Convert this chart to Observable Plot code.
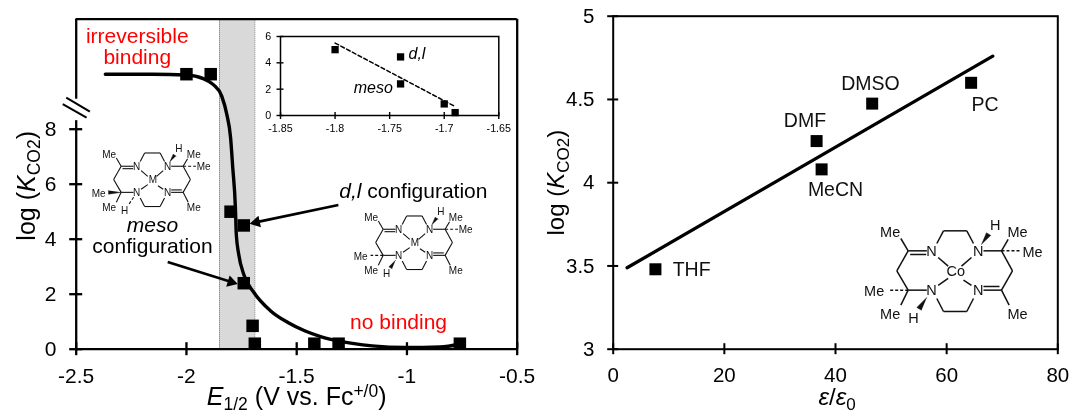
<!DOCTYPE html>
<html>
<head>
<meta charset="utf-8">
<script src="https://cdn.jsdelivr.net/npm/d3@7"></script>
<script src="https://cdn.jsdelivr.net/npm/@observablehq/plot@0.6"></script>
<style>
html,body{margin:0;padding:0;background:#fff}
#page{position:relative;width:1069px;height:414px;overflow:hidden;font-family:"Liberation Sans",Arial,sans-serif;filter:blur(0.35px)}
#page svg{position:absolute;max-width:none;background:transparent;overflow:visible}
</style>
</head>
<body>
<div id="page"></div>
<script>
// ---------- left panel data ----------
const potential = [-2, -1.89, -1.8, -1.74, -1.74, -1.7, -1.69, -1.42, -1.31, -0.76];
const logK = [10, 10, 5, 4.5, 2.4, 0.85, 0.2, 0.2, 0.2, 0.2];
const curveX = [-2.368,-2.154,-2,-1.924,-1.878,-1.84,-1.817,-1.8,-1.79,-1.778,-1.774,-1.763,-1.74,-1.694,-1.618,-1.54,-1.464,-1.388,-1.311,-1.158,-1.005,-0.85,-0.76];
const curveY = [10,10,9.97,9.84,9.62,9.2,8.54,7.7,6.6,5.15,4.18,3.45,2.72,2.06,1.39,0.97,0.67,0.45,0.30,0.12,0.06,0.08,0.18];
const band = [-1.85, -1.69];
const leftXTicks = [-2.5,-2,-1.5,-1,-0.5];
const leftYTicks = [0,2,4,6,8];
const slashes = [[-2.545,9.15,-2.438,8.64],[-2.561,8.91,-2.453,8.42]];
const arrowShafts = [[-1.311,5.24,-1.676,4.63],[-2.085,3.17,-1.803,2.46]];
const arrowHeads = [[-1.683,4.615,-102],[-1.797,2.44,107]];
// ---------- inset data ----------
const insetX = [-1.8,-1.74,-1.74,-1.7,-1.69];
const insetY = [5,4.45,2.4,0.88,0.22];
const insetFitX = [-1.8,-1.69];
const insetFitY = [5.5,0.68];
const insetXTicks = [-1.85,-1.8,-1.75,-1.7,-1.65];
const insetYTicks = [0,2,4,6];
// ---------- right panel data ----------
const solvents = ["THF","DMF","MeCN","DMSO","PC"];
const permittivity = [7.6,36.6,37.5,46.6,64.4];
const solventLogK = [3.48,4.25,4.08,4.475,4.6];
const fitX = [2.5,68.3];
const fitY = [3.489,4.76];
const rightXTicks = [0,20,40,60,80];
const rightYTicks = [3,3.5,4,4.5,5];
const solventLabelX = [10.7,34.5,40,46.3,66.9];
const solventLabelY = [3.48,4.37,3.96,4.595,4.47];
// ---------- molecule drawing (own units) ----------
const molBonds = [
 [172,122,228,122],[178,133,226,133],[398,122,452,122],[172,240,228,240],[398,240,452,240],[398,229,446,229],
 [172,122,138,182],[138,182,172,240],[452,122,485,182],[485,182,452,240],
 [172,122,150,85],[452,122,472,88],[172,240,150,285],[452,240,475,285],
 [258,100,278,62],[278,62,348,62],[348,62,368,100],[258,265,278,304],[278,304,348,304],[348,304,368,265],
 [262,142,292,168],[362,142,332,168],[262,226,292,205],[362,226,338,210]];
const molDashes = [[452,122,510,122]];
const molTopWedge = [[392,103],[407,68],[420,76]];
const molMeLabels = [[118,68],[500,68],[545,126],[70,245],[118,312],[500,312]];
const molNLabels = [[242,125],[382,125],[382,240],[242,240]];
const molHLabels = [[433,45],[188,325]];
const dlDash = [[172,240,115,240]];
const dlWedge = [[228,262],[198,292],[212,300]];
const mesoDash = [[228,262,205,297]];
const mesoWedge = [[115,232],[115,248],[172,240]];

const font = "Liberation Sans, Arial, sans-serif";
const page = document.getElementById("page");
const style = {background:"transparent",overflow:"visible",fontFamily:font};
const fmt = d => String(d);
function place(svg,left,top){
  d3.select(svg).selectAll("text").filter(function(){return this.textContent==="";}).remove();
  svg.style.left=left+"px";svg.style.top=top+"px";page.appendChild(svg);return svg;
}
function rich(svg,key,html){d3.select(svg).selectAll("text").filter(function(){return this.textContent===key;}).html(html);}
const link = {x1:d=>d[0],y1:d=>d[1],x2:d=>d[2],y2:d=>d[3]};
const dotSide = s => s/Math.sqrt(Math.PI);

// ---------- left panel ----------
const left = Plot.plot({
  width:540,height:414,marginLeft:75.7,marginRight:23.3,marginTop:18.7,marginBottom:65.3,style,
  x:{domain:[-2.5,-0.5]},y:{domain:[0,12]},
  marks:[
    Plot.rect([band],{x1:d=>d[0],x2:d=>d[1],y1:()=>0,y2:()=>12,fill:"#d9d9d9"}),
    Plot.ruleX(band,{y1:0,y2:12,stroke:"#6b6b6b",strokeWidth:1,strokeDasharray:"1,1"}),
    Plot.ruleY([0,12],{x1:-2.5,x2:-0.5,stroke:"black",strokeWidth:2.3}),
    Plot.ruleX([-0.5],{y1:0,y2:12,stroke:"black",strokeWidth:2.3}),
    Plot.ruleX([-2.5],{y1:0,y2:8.31,stroke:"black",strokeWidth:2.3}),
    Plot.ruleX([-2.5],{y1:9.09,y2:12,stroke:"black",strokeWidth:2.3}),
    Plot.link(slashes,{...link,stroke:"black",strokeWidth:2}),
    Plot.axisX(leftXTicks,{tickSize:13,dy:-6.5,tickFormat:()=>"",strokeWidth:2.3,label:null}),
    Plot.axisX(leftXTicks,{tickSize:0,tickPadding:18.7,tickFormat:fmt,fontSize:21,label:null}),
    Plot.axisY(leftYTicks,{tickSize:13,dx:6.5,tickFormat:()=>"",strokeWidth:2.3,label:null}),
    Plot.axisY(leftYTicks,{tickSize:0,tickPadding:19.7,tickFormat:fmt,fontSize:21,label:null}),
    Plot.line(curveX.map((x,i)=>[x,curveY[i]]),{x:d=>d[0],y:d=>d[1],curve:"monotone-x",stroke:"black",strokeWidth:3.4}),
    Plot.dot(potential.map((x,i)=>[x,logK[i]]),{x:d=>d[0],y:d=>d[1],symbol:"square",r:dotSide(12.5),fill:"black"}),
    Plot.link(arrowShafts,{...link,stroke:"black",strokeWidth:2.6}),
    Plot.dot(arrowHeads,{x:d=>d[0],y:d=>d[1],rotate:d=>d[2],symbol:"triangle",r:4.4,fill:"black"}),
    Plot.text(["irreversible"],{x:()=>-2.223,y:()=>11.39,fontSize:21,fill:"#ff0000"}),
    Plot.text(["binding"],{x:()=>-2.223,y:()=>10.61,fontSize:21,fill:"#ff0000"}),
    Plot.text(["no binding"],{x:()=>-1.038,y:()=>0.99,fontSize:21,fill:"#ff0000"}),
    Plot.text(["meso"],{x:()=>-2.154,y:()=>4.49,fontSize:21,fontStyle:"italic"}),
    Plot.text(["configuration"],{x:()=>-2.154,y:()=>3.76,fontSize:21}),
    Plot.text(["d,l configuration"],{x:()=>-0.971,y:()=>5.76,fontSize:21}),
    Plot.text(["E1/2 (V vs. Fc+/0)"],{x:()=>-1.5,frameAnchor:"bottom",lineAnchor:"middle",dy:48,fontSize:25}),
    Plot.text(["log (KCO2)"],{y:()=>5.94,frameAnchor:"left",textAnchor:"middle",lineAnchor:"middle",dx:-48.7,rotate:-90,fontSize:25})
  ]
});
rich(left,"d,l configuration",'<tspan font-style="italic">d,l</tspan> configuration');
rich(left,"E1/2 (V vs. Fc+/0)",'<tspan font-style="italic">E</tspan><tspan font-size="17.5" dy="5">1/2</tspan><tspan dy="-5"> (V vs. Fc</tspan><tspan font-size="17.5" dy="-8">+/0</tspan><tspan dy="8">)</tspan>');
rich(left,"log (KCO2)",'log (<tspan font-style="italic">K</tspan><tspan font-size="17.5" dy="5">CO2</tspan><tspan dy="-5">)</tspan>');
place(left,0,0);

// ---------- inset ----------
const inset = Plot.plot({
  width:270,height:150,marginLeft:30,marginRight:21.7,marginTop:36,marginBottom:35,style,
  x:{domain:[-1.85,-1.65]},y:{domain:[0,6]},
  marks:[
    Plot.frame({stroke:"black",strokeWidth:1.5}),
    Plot.axisX(insetXTicks,{tickSize:7,dy:-3,tickFormat:()=>"",strokeWidth:1.4,label:null}),
    Plot.axisX(insetXTicks,{tickSize:0,tickPadding:9,tickFormat:fmt,fontSize:10.7,label:null}),
    Plot.axisY(insetYTicks,{tickSize:7,dx:3.5,tickFormat:()=>"",strokeWidth:1.4,label:null}),
    Plot.axisY(insetYTicks,{tickSize:0,tickPadding:9.3,tickFormat:fmt,fontSize:10.7,label:null}),
    Plot.line(insetFitX.map((x,i)=>[x,insetFitY[i]]),{x:d=>d[0],y:d=>d[1],stroke:"black",strokeWidth:1.5,strokeDasharray:"4,2.5"}),
    Plot.dot(insetX.map((x,i)=>[x,insetY[i]]),{x:d=>d[0],y:d=>d[1],symbol:"square",r:dotSide(7.3),fill:"black"}),
    Plot.text(["d,l"],{x:()=>-1.725,y:()=>4.68,fontSize:16,fontStyle:"italic"}),
    Plot.text(["meso"],{x:()=>-1.765,y:()=>2.07,fontSize:16,fontStyle:"italic"})
  ]
});
place(inset,250,0);

// ---------- molecules ----------
function molecule(cx,cy,s,metal,stereo,lw,fs){
  const pts = a=>a.map(p=>({x:p[0],y:p[1]}));
  const wedges = stereo==="dl"?[molTopWedge,dlWedge]:[molTopWedge,mesoWedge];
  const dashes = molDashes.concat(stereo==="dl"?dlDash:mesoDash);
  const w=500*s,h=400*s;
  const lab=(a,t)=>Plot.text(a,{x:d=>d[0],y:d=>d[1],text:()=>t,fontSize:fs,fill:"#111"});
  const svg = Plot.plot({
    width:w,height:h,margin:0,style,
    x:{domain:[65,565],range:[0,w],axis:null},
    y:{domain:[-17,383],range:[0,h],axis:null},
    marks:[
      Plot.link(molBonds,{...link,stroke:"#111",strokeWidth:lw}),
      Plot.link(dashes,{...link,stroke:"#111",strokeWidth:lw,strokeDasharray:"3,2"}),
      ...wedges.map(wd=>Plot.line(pts(wd),{x:"x",y:"y",fill:"#111",stroke:"#111",strokeWidth:0.5})),
      lab(molMeLabels,"Me"),lab(molNLabels,"N"),lab(molHLabels,"H"),
      lab([[315,185]],metal)
    ]
  });
  return place(svg,cx-(315-65)*s,cy-(183+17)*s);
}
molecule(955,271,1/3,"Co","dl",1.5,14.5);
molecule(414,242.3,0.2213,"M","dl",1.1,10);
molecule(152.7,179.3,0.2213,"M","meso",1.1,10);

// ---------- right panel ----------
const right = Plot.plot({
  width:539,height:414,marginLeft:82.7,marginRight:11.7,marginTop:15.7,marginBottom:65.3,style,
  x:{domain:[0,80]},y:{domain:[3,5]},
  marks:[
    Plot.frame({stroke:"black",strokeWidth:2}),
    Plot.axisX(rightXTicks,{tickSize:11,dy:-5.5,tickFormat:()=>"",strokeWidth:2,label:null}),
    Plot.axisX(rightXTicks,{tickSize:0,tickPadding:18.7,tickFormat:fmt,fontSize:20.5,label:null}),
    Plot.axisY(rightYTicks,{tickSize:11,dx:5.5,tickFormat:()=>"",strokeWidth:2,label:null}),
    Plot.axisY(rightYTicks,{tickSize:0,tickPadding:18.7,tickFormat:fmt,fontSize:20.5,label:null}),
    Plot.line(fitX.map((x,i)=>[x,fitY[i]]),{x:d=>d[0],y:d=>d[1],stroke:"black",strokeWidth:3.3}),
    Plot.dot(permittivity.map((x,i)=>[x,solventLogK[i]]),{x:d=>d[0],y:d=>d[1],symbol:"square",r:dotSide(12),fill:"black"}),
    Plot.text(solvents,{x:(d,i)=>solventLabelX[i],y:(d,i)=>solventLabelY[i],text:d=>d,fontSize:19.5,fill:"#111",textAnchor:"middle",filter:d=>d!=="THF"}),
    Plot.text(["THF"],{x:()=>10.7,y:()=>3.48,fontSize:19.5,fill:"#111",textAnchor:"start"}),
    Plot.text(["ε/ε0"],{x:()=>40.3,frameAnchor:"bottom",lineAnchor:"middle",dy:48,fontSize:24}),
    Plot.text(["log (KCO2)"],{y:()=>4.0,frameAnchor:"left",textAnchor:"middle",lineAnchor:"middle",dx:-56.7,rotate:-90,fontSize:24})
  ]
});
rich(right,"ε/ε0",'<tspan font-style="italic">ε</tspan>/<tspan font-style="italic">ε</tspan><tspan font-size="17" dy="5">0</tspan>');
rich(right,"log (KCO2)",'log (<tspan font-style="italic">K</tspan><tspan font-size="17" dy="5">CO2</tspan><tspan dy="-5">)</tspan>');
place(right,530,0);
</script>
</body>
</html>
